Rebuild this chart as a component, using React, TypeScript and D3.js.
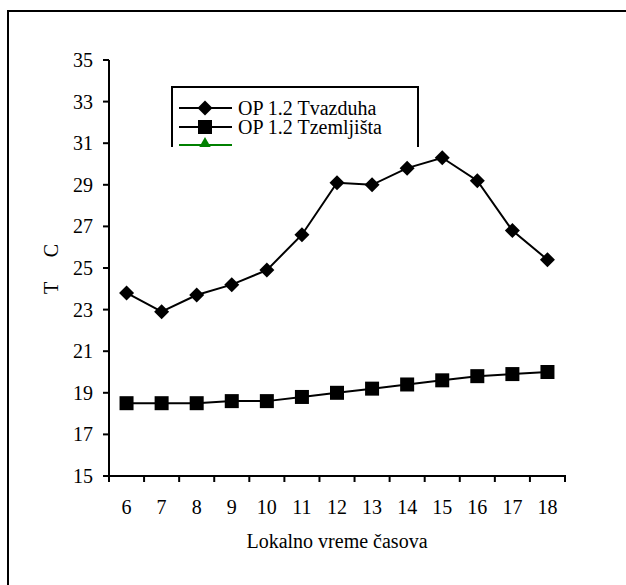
import React from "react";
import * as d3 from "d3";

const hours = [6, 7, 8, 9, 10, 11, 12, 13, 14, 15, 16, 17, 18];
const tVazduha = [23.8, 22.9, 23.7, 24.2, 24.9, 26.6, 29.1, 29.0, 29.8, 30.3, 29.2, 26.8, 25.4];
const tZemljista = [18.5, 18.5, 18.5, 18.6, 18.6, 18.8, 19.0, 19.2, 19.4, 19.6, 19.8, 19.9, 20.0];
const yTicks = [15, 17, 19, 21, 23, 25, 27, 29, 31, 33, 35];
const seriesNames = ["OP 1.2 Tvazduha", "OP 1.2 Tzemljišta"];
const xTitle = "Lokalno vreme časova";
const yTitle = "T     C";

const FONT = "'Liberation Serif', 'Times New Roman', serif";

export default function App() {
  const W = 626, H = 585;
  const x = d3.scaleBand<number>().domain(hours).range([109, 565]).padding(0);
  const bw = x.bandwidth();
  const cx = (h: number) => (x(h) as number) + bw / 2;
  const y = d3.scaleLinear().domain([15, 35]).range([476, 60]);

  const line = d3.line<number>().x((_, i) => cx(hours[i])).y((d) => y(d));

  const diamond = (px: number, py: number, r = 7.5) =>
    `M${px},${py - r}L${px + r},${py}L${px},${py + r}L${px - r},${py}Z`;
  const sq = 14;

  const boundaries = [...hours.map((h) => x(h) as number), 565];

  return (
    <div style={{ position: "absolute", left: 0, top: 0 }}>
      <svg width={W} height={H} style={{ display: "block", fontFamily: FONT }}>
        <rect x={0} y={0} width={W} height={H} fill="#fff" />
        <path d={`M8,${H + 5}V11H${W + 5}`} fill="none" stroke="#000" strokeWidth={2} />

        {/* y axis */}
        <line x1={109} x2={109} y1={y(35)} y2={y(15)} stroke="#000" strokeWidth={2} />
        {yTicks.map((t) => (
          <g key={t}>
            <line x1={103} x2={109} y1={y(t)} y2={y(t)} stroke="#000" strokeWidth={2} />
            <text x={93} y={y(t)} textAnchor="end" dominantBaseline="central" fontSize={20}>
              {t}
            </text>
          </g>
        ))}

        {/* x axis */}
        <line x1={108} x2={566} y1={y(15)} y2={y(15)} stroke="#000" strokeWidth={2} />
        {boundaries.map((b, i) => (
          <line key={i} x1={b} x2={b} y1={y(15)} y2={y(15) + 6} stroke="#000" strokeWidth={2} />
        ))}
        {hours.map((h) => (
          <text key={h} x={cx(h)} y={514} textAnchor="middle" fontSize={20}>
            {h}
          </text>
        ))}

        <text x={337} y={548} textAnchor="middle" fontSize={20}>
          {xTitle}
        </text>
        <text
          transform={`translate(58,269) rotate(-90)`}
          textAnchor="middle"
          fontSize={20}
          style={{ whiteSpace: "pre" }}
        >
          {yTitle}
        </text>

        {/* series */}
        <path d={line(tVazduha) || ""} fill="none" stroke="#000" strokeWidth={2} />
        {tVazduha.map((v, i) => (
          <path key={i} d={diamond(cx(hours[i]), y(v))} fill="#000" />
        ))}
        <path d={line(tZemljista) || ""} fill="none" stroke="#000" strokeWidth={2} />
        {tZemljista.map((v, i) => (
          <rect key={i} x={cx(hours[i]) - sq / 2} y={y(v) - sq / 2} width={sq} height={sq} fill="#000" />
        ))}

        {/* legend (clipped) */}
        <defs>
          <clipPath id="legclip">
            <rect x={170} y={85} width={252} height={62} />
          </clipPath>
        </defs>
        <g clipPath="url(#legclip)">
          <rect x={172} y={87} width={246} height={80} fill="#fff" stroke="#000" strokeWidth={2} />
          <line x1={179} x2={232} y1={108} y2={108} stroke="#000" strokeWidth={2} />
          <path d={diamond(205, 108)} fill="#000" />
          <text x={238} y={115} fontSize={20}>{seriesNames[0]}</text>
          <line x1={179} x2={232} y1={127} y2={127} stroke="#000" strokeWidth={2} />
          <rect x={205 - sq / 2} y={127 - sq / 2} width={sq} height={sq} fill="#000" />
          <text x={238} y={134} fontSize={20}>{seriesNames[1]}</text>
          <line x1={179} x2={232} y1={145} y2={145} stroke="#008000" strokeWidth={2} />
          <path d={`M205,137L213,151L197,151Z`} fill="#008000" />
        </g>
      </svg>
    </div>
  );
}
